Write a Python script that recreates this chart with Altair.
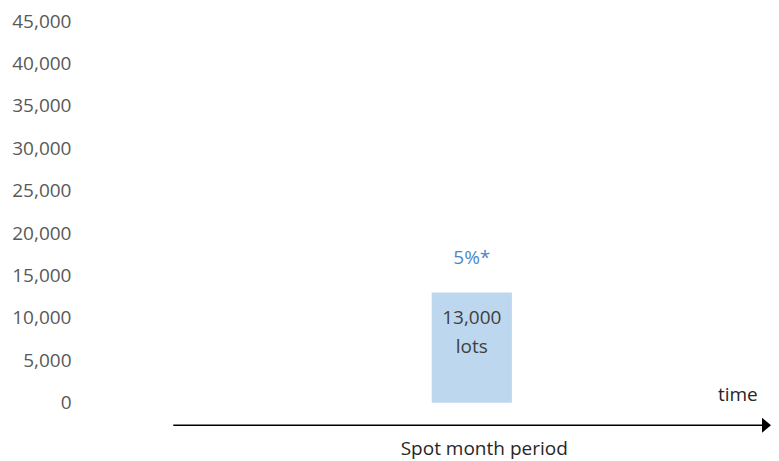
import altair as alt
import pandas as pd

# ---- data ----
y_ticks = [0, 5000, 10000, 15000, 20000, 25000, 30000, 35000, 40000, 45000]
bar_start = [50.9]
bar_end = [62.5]
bar_value = [13000]
bar_label_lines = ["13,000", "lots"]
bar_label_y = [10000, 6600]
pct_label = ["5%*"]
pct_label_y = [17100]
axis_arrow_x = [13.5, 99.0]
axis_arrow_y = -2650
time_label = ["time"]
time_label_pos = [95.2, 940]
period_label = ["Spot month period"]
period_label_pos = [58.5, -5500]

FONT = "Open Sans"
FS = 19

x_scale = alt.Scale(domain=[0, 100], nice=False, zero=False)
y_scale = alt.Scale(domain=[-5800, 45000], nice=False, zero=False)

bar_df = pd.DataFrame({"x1": bar_start, "x2": bar_end, "y": bar_value, "y0": [0]})
bars = alt.Chart(bar_df).mark_rect(color="#bdd7ee").encode(
    x=alt.X("x1:Q", scale=x_scale, axis=None),
    x2="x2:Q",
    y=alt.Y("y0:Q", scale=y_scale,
            axis=alt.Axis(values=y_ticks, format=",.0f", title=None, grid=False,
                          domain=False, ticks=False, tickSize=0, labelPadding=9,
                          labelFont=FONT, labelFontSize=FS, labelColor="#595959")),
    y2="y:Q",
)

cx = (bar_start[0] + bar_end[0]) / 2
lbl_df = pd.DataFrame({"x": [cx, cx], "y": bar_label_y, "t": bar_label_lines})
bar_text = alt.Chart(lbl_df).mark_text(font=FONT, fontSize=FS, color="#404040").encode(
    x=alt.X("x:Q", scale=x_scale), y=alt.Y("y:Q", scale=y_scale), text="t:N")

pct_df = pd.DataFrame({"x": [cx], "y": pct_label_y, "t": pct_label})
pct_text = alt.Chart(pct_df).mark_text(font=FONT, fontSize=FS, color="#4a89c8").encode(
    x=alt.X("x:Q", scale=x_scale), y=alt.Y("y:Q", scale=y_scale), text="t:N")

line_df = pd.DataFrame({"x": axis_arrow_x, "y": [axis_arrow_y, axis_arrow_y]})
arrow_line = alt.Chart(line_df).mark_line(color="black", strokeWidth=1.5).encode(
    x=alt.X("x:Q", scale=x_scale), y=alt.Y("y:Q", scale=y_scale))

head_df = pd.DataFrame({"x": [axis_arrow_x[1] + 0.35], "y": [axis_arrow_y]})
arrow_head = alt.Chart(head_df).mark_point(
    shape="M-0.6,-1L0.6,0L-0.6,1Z", size=225, filled=True, color="black", opacity=1
).encode(x=alt.X("x:Q", scale=x_scale), y=alt.Y("y:Q", scale=y_scale))

time_df = pd.DataFrame({"x": [time_label_pos[0]], "y": [time_label_pos[1]], "t": time_label})
time_text = alt.Chart(time_df).mark_text(font=FONT, fontSize=FS, color="#262626").encode(
    x=alt.X("x:Q", scale=x_scale), y=alt.Y("y:Q", scale=y_scale), text="t:N")

per_df = pd.DataFrame({"x": [period_label_pos[0]], "y": [period_label_pos[1]], "t": period_label})
per_text = alt.Chart(per_df).mark_text(font=FONT, fontSize=FS, color="#262626").encode(
    x=alt.X("x:Q", scale=x_scale), y=alt.Y("y:Q", scale=y_scale), text="t:N")

chart = alt.layer(bars, bar_text, pct_text, arrow_line, arrow_head, time_text, per_text).properties(
    width=691, height=431,
    autosize=alt.AutoSizeParams(type="none"),
    padding={"left": 72, "top": 13, "right": 0, "bottom": 12},
    background="white",
).configure_view(strokeWidth=0, stroke="transparent")

chart.save("out.html", embed_options={"renderer": "svg", "actions": False})
